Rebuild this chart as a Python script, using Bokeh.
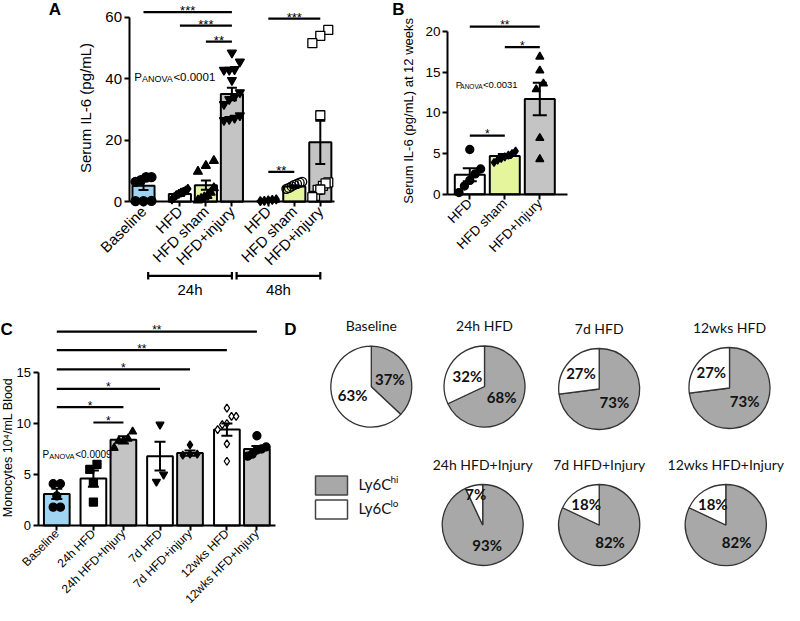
import math
from bokeh.plotting import figure
from bokeh.models import (Range1d, LinearAxis, FixedTicker, CustomJSTickFormatter,
                          Label, Spacer)
from bokeh.layouts import row, column
from bokeh.embed import file_html
from bokeh.resources import INLINE
from bokeh.core.properties import value

SANS = "Liberation Sans"
PIEFONT = "Lato"
BLUE = "#9fd4f2"
LIME = "#e4f59c"
GREY = "#c4c4c4"
PIEGREY = "#a8a8a8"

# ---------------- Panel A data ----------------
a_labels = ["Baseline", "HFD", "HFD sham", "HFD+injury", "HFD", "HFD sham", "HFD+injury"]
a_pos = [0, 1.4, 2.4, 3.4, 4.8, 5.8, 6.8]
a_mean = [5.2, 2.5, 5.4, 35.0, 0.3, 5.0, 19.3]
a_sem = [1.4, 0.6, 1.5, 2.0, 0.1, 0.4, 7.0]
a_points = [
    [8.0, 8.0, 7.0, 6.5, 0.3, 0.2, 0.2],
    [4.2, 3.6, 3.0, 2.6, 2.2, 1.5, 0.8, 3.2],
    [13.3, 11.7, 9.8, 4.5, 3.0, 2.0, 1.5, 1.0, 0.5],
    [48.4, 45.5, 42.8, 42.8, 43.0, 39.5, 34.2, 33.3, 31.7, 28.0, 26.8, 26.5, 27.2, 35.5],
    [0.8, 0.5, 0.3, 0.6, 0.2],
    [6.5, 6.2, 5.8, 5.0, 4.5, 4.2, 5.5],
    [55.8, 53.9, 51.5, 28.1, 6.3, 5.2, 3.9, 1.9, 6.0, 4.0, 1.5],
]
a_sig = [(0, 3, 61.6, "***"), (1, 3, 57.2, "***"), (2, 3, 52.0, "**"),
         (4, 6, 59.5, "***"), (4, 5, 9.7, "**")]
a_groups = [(1, 3, "24h"), (4, 6, "48h")]
a_yticks = [0, 20, 40, 60]
a_anova = "<0.0001"

# ---------------- Panel B data ----------------
b_labels = ["HFD", "HFD sham", "HFD+Injury"]
b_pos = [0, 1, 2]
b_mean = [2.4, 4.7, 11.7]
b_sem = [0.8, 0.25, 2.0]
b_points = [
    [5.5, 3.1, 2.5, 1.7, 1.0, 0.2],
    [5.3, 5.0, 4.8, 4.6, 4.4, 4.2, 3.9],
    [16.9, 15.2, 13.6, 12.9, 6.9, 4.3],
]
b_sig = [(0, 2, 20.6, "**"), (1, 2, 18.1, "*"), (0, 1, 7.2, "*")]
b_yticks = [0, 5, 10, 15, 20]
b_anova = "<0.0031"

# ---------------- Panel C data ----------------
c_labels = ["Baseline", "24h HFD", "24h HFD+Injury", "7d HFD", "7d HFD+injury",
            "12wks HFD", "12wks HFD+Injury"]
c_pos = [0, 1.22, 2.22, 3.44, 4.44, 5.67, 6.67]
c_mean = [3.1, 4.6, 8.4, 6.8, 7.1, 9.4, 7.5]
c_sem = [0.5, 0.8, 0.35, 1.4, 0.25, 0.6, 0.3]
c_points = [
    [4.1, 4.1, 2.9, 1.8, 1.8],
    [6.0, 5.5, 4.2, 2.3],
    [9.2, 8.5, 8.3, 8.3, 7.6],
    [9.9, 5.0, 4.3],
    [7.9, 7.0, 7.0, 6.9],
    [11.5, 10.7, 10.7, 10.0, 9.9, 9.4, 8.0, 6.3],
    [8.8, 7.7, 7.5, 7.4, 7.0, 6.8],
]
c_sig = [(0, 6, 19.0, "**"), (0, 5, 17.2, "**"), (0, 4, 15.3, "*"),
         (0, 3, 13.4, "*"), (0, 2, 11.6, "*"), (1, 2, 10.1, "*")]
c_yticks = [0, 5, 10, 15]
c_anova = "<0.0009"

# ---------------- Panel D data ----------------
d_titles = ["Baseline", "24h HFD", "7d HFD", "12wks HFD",
            "24h HFD+Injury", "7d HFD+Injury", "12wks HFD+Injury"]
d_hi = [37, 68, 73, 73, 93, 82, 82]
d_lo = [63, 32, 27, 27, 7, 18, 18]
d_legend = [("Ly6C", "hi"), ("Ly6C", "lo")]

# ---------------- styles (not data) ----------------
a_colors = [BLUE, "white", LIME, GREY, "white", LIME, GREY]
a_markers = ["circle", "diamond", "triangle", "inverted_triangle", "diamond", "circle", "square"]
a_fills = [("black", 1), ("black", 1), ("black", 1), ("black", 1), ("black", 1), ("white", 0), ("white", 1)]
b_colors = ["white", LIME, GREY]
b_markers = ["circle", "diamond", "triangle"]
b_fills = [("black", 1)] * 3
c_colors = [BLUE, "white", GREY, "white", GREY, "white", GREY]
c_markers = ["circle", "square", "triangle", "inverted_triangle", "diamond", "diamond", "circle"]
c_fills = [("black", 1)] * 5 + [("white", 1), ("black", 1)]


def clean(p):
    p.outline_line_color = None
    p.background_fill_color = "white"
    p.border_fill_color = "white"
    for g in list(p.grid):
        g.visible = False


class Frame:
    """A figure whose data origin sits at page pixel (x0, y0)."""
    def __init__(self, ox, oy, w, h, x0, xu, y0, yu):
        self.ox, self.oy, self.w, self.h = ox, oy, w, h
        self.x0, self.xu, self.y0, self.yu = x0, xu, y0, yu
        self.p = figure(width=w, height=h,
                        x_range=Range1d((ox - x0) / xu, (ox + w - x0) / xu),
                        y_range=Range1d((y0 - (oy + h)) / yu, (y0 - oy) / yu),
                        x_axis_location=None, y_axis_location=None,
                        toolbar_location=None, output_backend="svg",
                        min_border=0, outline_line_color=None)
        clean(self.p)

    def X(self, px):
        return (px - self.x0) / self.xu

    def Y(self, py):
        return (self.y0 - py) / self.yu

    def label(self, X, Y, text, size, align="left", baseline="middle", angle=0,
              style="normal", font=SANS):
        self.p.add_layout(Label(x=X - self.ox, y=self.oy + self.h - Y,
                                x_units="screen", y_units="screen", text=text,
                                text_font=font, text_font_size=size,
                                text_font_style=style, text_align=align,
                                text_baseline=baseline, angle=angle,
                                text_color="black"))


def spread(vals, tol, step, maxhalf):
    order = sorted(range(len(vals)), key=lambda i: vals[i])
    clusters = []
    for i in order:
        if clusters and vals[i] - vals[clusters[-1][-1]] <= tol:
            clusters[-1].append(i)
        else:
            clusters.append([i])
    offs = [0.0] * len(vals)
    for c in clusters:
        n = len(c)
        if n == 1:
            continue
        st = min(step, 2 * maxhalf / (n - 1))
        for k, i in enumerate(c):
            offs[i] = (k - (n - 1) / 2) * st
    return offs


def style_axis(ax, fs, standoff=2, tick=5):
    ax.axis_line_width = 2
    ax.axis_line_color = "black"
    ax.major_tick_line_width = 2
    ax.major_tick_line_color = "black"
    ax.major_tick_in = 0
    ax.major_tick_out = tick
    ax.minor_tick_in = 0
    ax.minor_tick_out = 0
    ax.major_label_text_font = SANS
    ax.major_label_text_font_size = fs
    ax.major_label_text_color = "black"
    ax.major_label_standoff = standoff


def add_axes(fr, pos, labels, yticks, yaxis_px, xend_px, fs, xfs=None, xstand=2):
    ax_x = fr.X(yaxis_px)
    yax = LinearAxis(fixed_location=ax_x, bounds=(yticks[0], yticks[-1]),
                     ticker=FixedTicker(ticks=yticks, minor_ticks=[]))
    style_axis(yax, fs)
    fr.p.add_layout(yax, "left")
    fmt = CustomJSTickFormatter(args=dict(pos=pos, labels=labels), code="""
        let best = 0, d = 1e9;
        for (let i = 0; i < pos.length; i++) {
            const e = Math.abs(pos[i] - tick);
            if (e < d) { d = e; best = i; }
        }
        return labels[best];
    """)
    xax = LinearAxis(fixed_location=0, bounds=(ax_x, fr.X(xend_px)),
                     ticker=FixedTicker(ticks=pos, minor_ticks=[]), formatter=fmt,
                     major_label_orientation=math.pi / 4)
    style_axis(xax, xfs or fs, standoff=xstand)
    fr.p.add_layout(xax, "below")


def draw_groups(fr, pos, means, sems, colors, points, markers, fills, msize, bar_w, cap_px):
    p = fr.p
    p.vbar(x=pos, top=means, bottom=0, width=bar_w, fill_color=colors,
           line_color="black", line_width=2)
    for i, vals in enumerate(points):
        offs = spread(vals, tol=msize * 0.9 / fr.yu, step=msize * 0.9 / fr.xu,
                      maxhalf=bar_w * 0.36)
        fc, fa = fills[i]
        p.scatter(x=[pos[i] + o for o in offs], y=vals, marker=markers[i], size=msize,
                  fill_color=fc, fill_alpha=fa, line_color="black", line_width=1.3)
    lo = [m - s for m, s in zip(means, sems)]
    hi = [m + s for m, s in zip(means, sems)]
    cw = cap_px / fr.xu
    p.segment(x0=pos, y0=lo, x1=pos, y1=hi, line_color="black", line_width=2)
    p.segment(x0=[x - cw for x in pos], y0=hi, x1=[x + cw for x in pos], y1=hi,
              line_color="black", line_width=2)
    p.segment(x0=[x - cw for x in pos], y0=lo, x1=[x + cw for x in pos], y1=lo,
              line_color="black", line_width=2)


def draw_sig(fr, pos, sigs, fs):
    for i, j, y, s in sigs:
        fr.p.segment(x0=[pos[i]], y0=[y], x1=[pos[j]], y1=[y], line_color="black",
                     line_width=2.2)
        fr.p.text(x=[(pos[i] + pos[j]) / 2], y=[y + 1.5 / fr.yu], text=[s],
                  text_align="center", text_baseline="alphabetic",
                  text_font=value(SANS), text_font_size=fs, text_color="black")


def anova(fr, X, Yb, rest, fs, sfs, pw, sw):
    fr.label(X, Yb, "P", fs, baseline="alphabetic")
    fr.label(X + pw, Yb + 2, "ANOVA", sfs, baseline="alphabetic")
    fr.label(X + pw + sw, Yb, rest, fs, baseline="alphabetic")


# ================= Panel A =================
A = Frame(8, 8, 392, 302, 151, 26, 209.3, 3.08)
draw_groups(A, a_pos, a_mean, a_sem, a_colors, a_points, a_markers, a_fills, 9, 0.85, 5)
add_axes(A, a_pos, a_labels, a_yticks, 136.5, 342, "15px")
draw_sig(A, a_pos, a_sig, "13px")
for i, j, txt in a_groups:
    x_l, x_r = a_pos[i] - 1.22, a_pos[j]
    yb = A.Y(283.3)
    A.p.segment(x0=[x_l], y0=[yb], x1=[x_r], y1=[yb], line_color="black", line_width=2.2)
    A.p.segment(x0=[x_l, x_r], y0=[A.Y(279.5)] * 2, x1=[x_l, x_r], y1=[A.Y(287)] * 2,
                line_color="black", line_width=2.2)
    A.p.text(x=[(x_l + x_r) / 2], y=[A.Y(297)], text=[txt], text_align="center",
             text_baseline="middle", text_font=value(SANS), text_font_size="15px",
             text_color="black")
anova(A, 141.7, 84, a_anova, "11.5px", "9px", 7.7, 31.5)
A.label(92.5, 115.5, "Serum IL-6 (pg/mL)", "15px", align="center", angle=math.pi / 2)
A.label(62.5, 17, "A", "17px", align="center", style="bold")

# ================= Panel B =================
B = Frame(400, 8, 200, 302, 477.3, 35, 201.7, 8.13)
draw_groups(B, b_pos, b_mean, b_sem, b_colors, b_points, b_markers, b_fills, 8, 0.857, 7)
add_axes(B, b_pos, b_labels, b_yticks, 455, 575, "13.5px")
draw_sig(B, b_pos, b_sig, "12px")
anova(B, 463.3, 91.5, b_anova, "9.5px", "6.5px", 4.5, 22.7)
B.label(416, 118.3, "Serum IL-6 (pg/mL) at 12 weeks", "13px", align="center",
        angle=math.pi / 2)
B.label(406, 17, "B", "17px", align="center", style="bold")

# ================= Panel C =================
C = Frame(8, 310, 282, 303, 64.3, 30, 533, 10.2)
draw_groups(C, c_pos, c_mean, c_sem, c_colors, c_points, c_markers, c_fills, 8, 0.857, 5.5)
add_axes(C, c_pos, c_labels, c_yticks, 45.5, 283, "13px", xfs="12px", xstand=1)
draw_sig(C, c_pos, c_sig, "12px")
anova(C, 50, 462, c_anova, "10px", "7.4px", 6.7, 26)
C.label(15, 455, "Monocytes 10\u2074/mL Blood", "12.5px", align="center", angle=math.pi / 2)
C.label(8, 337, "C", "17px", align="left", style="bold")

# ================= Panel D =================
# pie centres in page pixels (layout)
d_cx = [378.8, 492.0, 606.7, 737.0, 490.2, 606.7, 733.3]
d_cy = [394.2, 394.0, 396.5, 395.5, 532.5, 532.5, 532.5]
R = 40.5
pD = figure(width=502, height=303, x_range=Range1d(290, 792), y_range=Range1d(-613, -310),
            x_axis_location=None, y_axis_location=None, toolbar_location=None,
            output_backend="svg", min_border=0, outline_line_color=None)
clean(pD)
top = math.pi / 2
for k in range(len(d_hi)):
    fh = d_hi[k] / 100.0
    fl = d_lo[k] / 100.0
    cx, cy = d_cx[k], -d_cy[k]
    pD.wedge(x=[cx], y=[cy], radius=R, start_angle=top - 2 * math.pi * fh, end_angle=top,
             fill_color=PIEGREY, line_color="#333333", line_width=1.3)
    pD.wedge(x=[cx], y=[cy], radius=R, start_angle=top, end_angle=top + 2 * math.pi * fl,
             fill_color="white", line_color="#333333", line_width=1.3)
    for f, mid, txt in [(fh, top - math.pi * fh, d_hi[k]), (fl, top + math.pi * fl, d_lo[k])]:
        rl = R * (0.5 if f >= 0.3 else (0.6 if f >= 0.1 else 0.78))
        pD.text(x=[cx + rl * math.cos(mid)], y=[cy + rl * math.sin(mid)], text=["%d%%" % txt],
                text_align="center", text_baseline="middle", text_font=value(PIEFONT),
                text_font_style="bold", text_font_size="15px", text_color="#111111")
    pD.text(x=[cx], y=[cy + 61], text=[d_titles[k]], text_align="center",
            text_baseline="middle", text_font=value(PIEFONT), text_font_size="14px",
            text_color="#111111")
leg_y = [-493, -517]
pD.rect(x=[339, 339], y=leg_y, width=32, height=19, fill_color=[PIEGREY, "white"],
        line_color="#444444", line_width=1.5)
for (base, sup), ly in zip(d_legend, leg_y):
    pD.text(x=[366], y=[ly + 2], text=[base], text_align="left", text_baseline="middle",
            text_font=value(PIEFONT), text_font_size="15px", text_color="#111111")
    pD.text(x=[398], y=[ly + 7], text=[sup], text_align="left", text_baseline="middle",
            text_font=value(PIEFONT), text_font_size="10px", text_color="#111111")
pD.text(x=[298], y=[-336.7], text=["D"], text_align="center", text_baseline="middle",
        text_font=value(SANS), text_font_style="bold", text_font_size="17px",
        text_color="black")

layout = column(row(A.p, B.p, Spacer(width=192, height=302)), row(C.p, pD))
open("out.html", "w").write(file_html(layout, INLINE))
